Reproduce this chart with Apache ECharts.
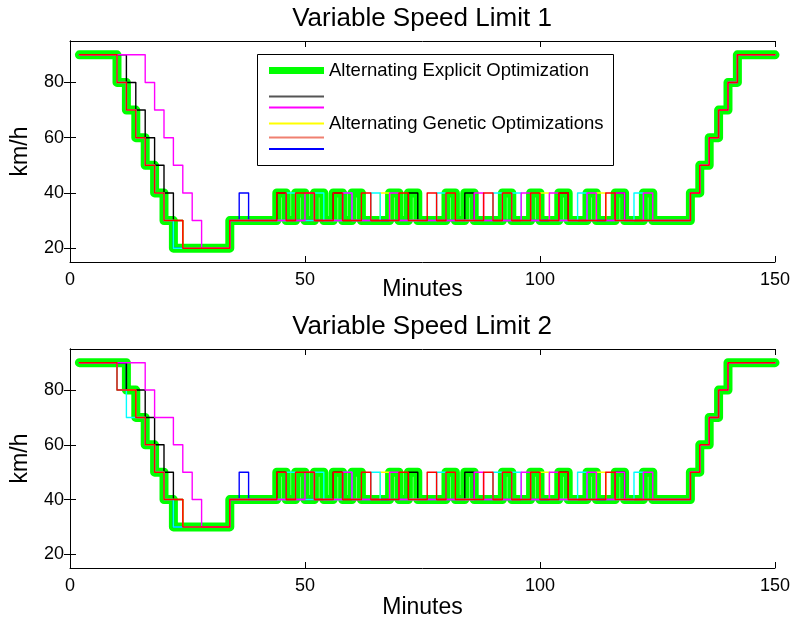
<!DOCTYPE html>
<html>
<head>
<meta charset="utf-8">
<title>Variable Speed Limit</title>
<script src="https://cdn.jsdelivr.net/npm/echarts@6/dist/echarts.min.js"></script>
<style>
  html, body { margin: 0; padding: 0; background: #fff; }
  #chart { width: 793px; height: 626px; }
</style>
</head>
<body>
<div id="chart"></div>
<script>
// tick values
var xTicks = [0, 50, 100, 150];
var yTicks = [20, 40, 60, 80];

// Variable Speed Limit 1  [minute, km/h], value holds until next point
var green1 = [[2,90],[10,80],[12,70],[14,60],[16,50],[18,40],[20,30],[22,20],[34,30],
  [44,40],[46,30],[48,40],[50,30],[52,40],[54,30],[56,40],[58,30],[60,40],[62,30],
  [68,40],[70,30],[72,40],[74,30],[80,40],[82,30],[84,40],[86,30],[92,40],[94,30],
  [98,40],[100,30],[104,40],[106,30],[110,40],[112,30],[116,40],[118,30],[122,40],[124,30],
  [132,40],[134,50],[136,60],[138,70],[140,80],[142,90],[150,90]];
var black1 = [[2,90],[12,80],[14,70],[16,60],[18,50],[20,40],[22,30],[24,20],[34,30],
  [44,40],[46,30],[56,40],[58,30],[72,40],[74,30],[84,40],[86,30],[104,40],[106,30],[116,40],[118,30],
  [132,40],[134,50],[136,60],[138,70],[140,80],[142,90],[150,90]];
var magenta1 = [[2,90],[16,80],[18,70],[20,60],[22,50],[24,40],[26,30],[28,20],[34,30],
  [50,40],[52,30],[58,40],[60,30],[68,40],[70,30],[86,40],[88,30],[96,40],[98,30],[102,40],[104,30],
  [110,40],[112,30],[116,40],[118,30],[122,40],[124,30],
  [132,40],[134,50],[136,60],[138,70],[140,80],[142,90],[150,90]];
var yellow1 = [[2,90],[10,80],[12,70],[14,60],[16,50],[18,40],[20,30],[24,20],[34,30],
  [66,40],[68,30],[100,40],[102,30],[112,40],[114,30],
  [132,40],[134,50],[136,60],[138,70],[140,80],[142,90],[150,90]];
var cyan1 = [[2,90],[10,80],[12,70],[14,60],[16,50],[18,40],[20,30],[22,20],[34,30],
  [46,40],[48,30],[52,40],[54,30],[58,40],[60,30],[64,40],[66,30],[78,40],[80,30],
  [90,40],[92,30],[94,40],[96,30],[108,40],[110,30],[120,40],[122,30],
  [132,40],[134,50],[136,60],[138,70],[140,80],[142,90],[150,90]];
var blue1 = [[2,90],[10,80],[12,70],[14,60],[16,50],[18,40],[20,30],[22,20],[34,30],
  [36,40],[38,30],
  [132,40],[134,50],[136,60],[138,70],[140,80],[142,90],[150,90]];
var red1 = [[2,90],[10,80],[12,70],[14,60],[16,50],[18,40],[20,30],[24,20],[34,30],
  [44,40],[46,30],[48,40],[52,30],[56,40],[58,30],[62,40],[64,30],[70,40],[72,30],
  [76,40],[78,30],[80,40],[82,30],[88,40],[90,30],[92,40],[94,30],[98,40],[100,30],
  [104,40],[106,30],[114,40],[116,30],
  [132,40],[134,50],[136,60],[138,70],[140,80],[142,90],[150,90]];

// Variable Speed Limit 2
var green2 = [[2,90],[12,80],[14,70],[16,60],[18,50],[20,40],[22,30],[34,40],
  [44,50],[46,40],[48,50],[50,40],[52,50],[54,40],[56,50],[58,40],[60,50],[62,40],
  [68,50],[70,40],[72,50],[74,40],[80,50],[82,40],[84,50],[86,40],[92,50],[94,40],
  [98,50],[100,40],[104,50],[106,40],[110,50],[112,40],[116,50],[118,40],[122,50],[124,40],
  [132,50],[134,60],[136,70],[138,80],[140,90],[150,90]];
var black2 = [[2,90],[12,80],[16,70],[18,60],[20,50],[22,40],[24,30],[34,40],
  [44,50],[46,40],[56,50],[58,40],[72,50],[74,40],[84,50],[86,40],[104,50],[106,40],[116,50],[118,40],
  [132,50],[134,60],[136,70],[138,80],[140,90],[150,90]];
var magenta2 = [[2,90],[16,80],[18,70],[22,60],[24,50],[26,40],[28,30],[34,40],
  [50,50],[52,40],[58,50],[60,40],[68,50],[70,40],[86,50],[88,40],[96,50],[98,40],[102,50],[104,40],
  [110,50],[112,40],[116,50],[118,40],[122,50],[124,40],
  [132,50],[134,60],[136,70],[138,80],[140,90],[150,90]];
var yellow2 = [[2,90],[10,80],[14,70],[16,60],[18,50],[20,40],[24,30],[34,40],
  [66,50],[68,40],[100,50],[102,40],[112,50],[114,40],
  [132,50],[134,60],[136,70],[138,80],[140,90],[150,90]];
var cyan2 = [[2,90],[10,80],[12,70],[16,60],[18,50],[20,40],[22,30],[34,40],
  [46,50],[48,40],[52,50],[54,40],[58,50],[60,40],[64,50],[66,40],[78,50],[80,40],
  [90,50],[92,40],[94,50],[96,40],[108,50],[110,40],[120,50],[122,40],
  [132,50],[134,60],[136,70],[138,80],[140,90],[150,90]];
var blue2 = [[2,90],[12,80],[14,70],[16,60],[18,50],[20,40],[22,30],[34,40],
  [36,50],[38,40],
  [132,50],[134,60],[136,70],[138,80],[140,90],[150,90]];
var red2 = [[2,90],[10,80],[14,70],[16,60],[18,50],[20,40],[24,30],[34,40],
  [44,50],[46,40],[48,50],[52,40],[56,50],[58,40],[62,50],[64,40],[70,50],[72,40],
  [76,50],[78,40],[80,50],[82,40],[88,50],[90,40],[92,50],[94,40],[98,50],[100,40],
  [104,50],[106,40],[114,50],[116,40],
  [132,50],[134,60],[136,70],[138,80],[140,90],[150,90]];

var FONT = 'Liberation Sans, Arial, Helvetica, sans-serif';
var chart = echarts.init(document.getElementById('chart'));

var grids = [
  { left: 70, top: 41, width: 705, height: 221 },
  { left: 70, top: 349, width: 705, height: 219 }
];

function xAxes(g, gap) {
  return [{
    gridIndex: g, type: 'value', min: 0, max: 150, interval: 50, position: 'bottom',
    name: 'Minutes', nameLocation: 'middle', nameGap: gap, nameMoveOverlap: false,
    nameTextStyle: { fontSize: 23, color: '#000', fontFamily: FONT, verticalAlign: 'top' },
    axisLine: { show: true, lineStyle: { color: '#000', width: 1 } },
    axisTick: { show: true, inside: true, length: 6, lineStyle: { color: '#000' } },
    axisLabel: { color: '#000', fontSize: 18, fontFamily: FONT, margin: 9 },
    splitLine: { show: false }
  }, {
    gridIndex: g, type: 'value', min: 0, max: 150, interval: 50, position: 'top',
    axisLine: { show: true, lineStyle: { color: '#000', width: 1 } },
    axisTick: { show: true, inside: true, length: 6, lineStyle: { color: '#000' } },
    axisLabel: { show: false },
    splitLine: { show: false }
  }];
}

function yAxes(g) {
  return [{
    gridIndex: g, type: 'value', min: 15, max: 95, position: 'left',
    name: 'km/h', nameLocation: 'middle', nameGap: 38, nameRotate: 90,
    nameTextStyle: { fontSize: 23, color: '#000', fontFamily: FONT },
    axisLine: { show: true, lineStyle: { color: '#000', width: 1 } },
    axisTick: { show: true, inside: true, length: 6, customValues: yTicks, lineStyle: { color: '#000' } },
    axisLabel: { color: '#000', fontSize: 18, fontFamily: FONT, margin: 6, customValues: yTicks },
    splitLine: { show: false }
  }, {
    gridIndex: g, type: 'value', min: 15, max: 95, position: 'right',
    axisLine: { show: true, lineStyle: { color: '#000', width: 1 } },
    axisTick: { show: true, inside: true, length: 6, customValues: yTicks, lineStyle: { color: '#000' } },
    axisLabel: { show: false, customValues: yTicks },
    splitLine: { show: false }
  }];
}

function line(name, data, color, width, g, z) {
  return {
    name: name, type: 'line', step: 'end', data: data,
    xAxisIndex: g * 2, yAxisIndex: g * 2,
    color: color, showSymbol: false, symbol: 'none', z: z,
    lineStyle: { color: color, width: width, cap: 'round', join: 'round' },
    emphasis: { disabled: true }
  };
}

var names = {
  green: 'Alternating Explicit Optimization',
  black: 'GA run 1',
  magenta: 'GA run 2',
  yellow: 'Alternating Genetic Optimizations',
  red: 'GA run 4',
  blue: 'GA run 5',
  cyan: 'GA run 6'
};

var series = [];
[[green1, black1, magenta1, yellow1, cyan1, blue1, red1],
 [green2, black2, magenta2, yellow2, cyan2, blue2, red2]].forEach(function (s, g) {
  series.push(line(names.green, s[0], '#00ff00', 9, g, 2));
  series.push(line(names.blue, s[5], '#0000ff', 1.4, g, 3));
  series.push(line(names.black, s[1], '#000000', 1.4, g, 3));
  series.push(line(names.yellow, s[3], '#ffff00', 1.4, g, 3));
  series.push(line(names.cyan, s[4], '#00ffff', 1.4, g, 3));
  series.push(line(names.magenta, s[2], '#ff00ff', 1.4, g, 3));
  series.push(line(names.red, s[6], '#ff0000', 1.4, g, 3));
});

// one legend row per entry, only two of them carry text
function legendRow(name, yCenter, thick, color, label) {
  return {
    data: [{ name: name, itemStyle: { color: color } }],
    left: 269, top: yCenter - 10, padding: 0,
    icon: 'rect', itemWidth: 55, itemHeight: thick,
    selectedMode: false,
    formatter: function () { return label; },
    textStyle: { fontSize: 18.5, color: '#000', fontFamily: FONT, lineHeight: 20, height: 20 }
  };
}

chart.setOption({
  animation: false,
  backgroundColor: '#fff',
  title: [
    { text: 'Variable Speed Limit 1', left: 422, top: 6, textAlign: 'center', padding: 0,
      textStyle: { fontSize: 26, fontWeight: 'normal', color: '#000', fontFamily: FONT } },
    { text: 'Variable Speed Limit 2', left: 422, top: 314, textAlign: 'center', padding: 0,
      textStyle: { fontSize: 26, fontWeight: 'normal', color: '#000', fontFamily: FONT } }
  ],
  graphic: [{
    type: 'rect', z: 3,
    shape: { x: 257.5, y: 54.5, width: 356, height: 111 },
    style: { fill: '#fff', stroke: '#000', lineWidth: 1 }
  }],
  legend: [
    legendRow(names.green, 70.5, 7, '#00ff00', names.green),
    legendRow(names.black, 96.5, 2, '#555555', ''),
    legendRow(names.magenta, 107.5, 2, '#ff00ff', ''),
    legendRow(names.yellow, 123.5, 2, '#ffff00', names.yellow),
    legendRow(names.red, 137.5, 2, '#f08070', ''),
    legendRow(names.blue, 149, 2, '#0000ff', '')
  ],
  grid: grids,
  xAxis: xAxes(0, 16).concat(xAxes(1, 28)),
  yAxis: yAxes(0).concat(yAxes(1)),
  series: series
});
</script>
</body>
</html>
